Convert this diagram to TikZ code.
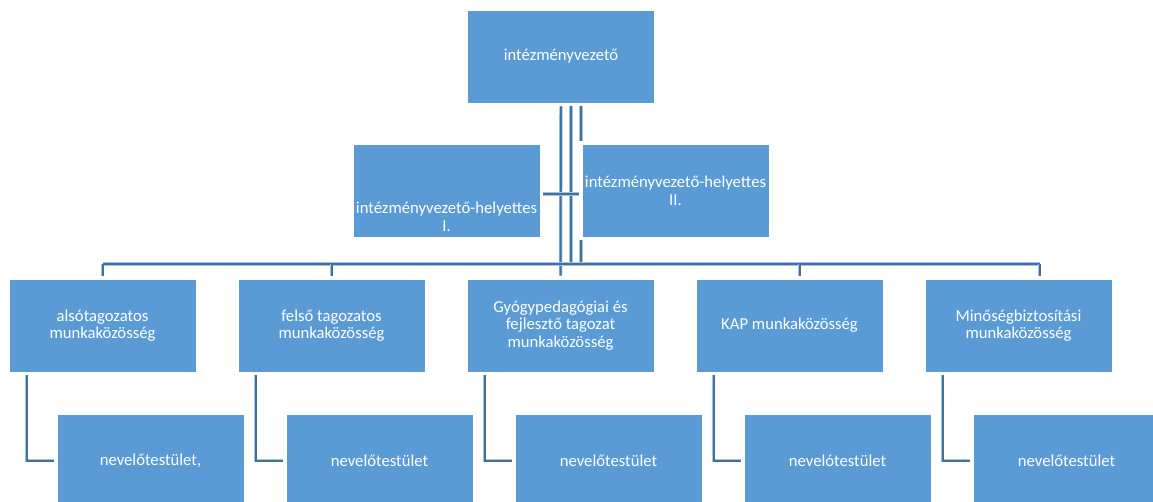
\documentclass[tikz,border=0pt]{standalone}
\usepackage{fontspec}
\setmainfont{Carlito}
\usetikzlibrary{calc}
\definecolor{boxblue}{HTML}{5B9BD5}
\definecolor{lineblue}{HTML}{41719C}
\definecolor{halo}{HTML}{A3C2E4}

\begin{document}
\begin{tikzpicture}[x=0.75pt, y=-0.75pt, font=\fontsize{12.5}{13.2}\selectfont,
  box/.style={draw=white, line width=0.6pt, fill=boxblue, text=white, align=center,
    minimum width=140.25pt, minimum height=69.75pt, inner sep=0pt},
  conn/.style={draw=lineblue, line width=1.5pt, preaction={draw=halo, line width=2.6pt}}]
  \useasboundingbox (0,0) rectangle (1153,501);
  \clip (0,0) rectangle (1153,501);

  % Top box
  \node[box] (top) at (561,56.5) {intézményvezető};

  % Deputies
  \node[box, label={[yshift=-19.5pt, align=center, text=white]center:intézményvezető-helyettes\\I.}] (dep1) at (446.5,190.5) {};
  \node[box] (dep2) at (675.5,190.5) {intézményvezető-helyettes\\II.};

  % Working groups (row 3)
  \foreach \i/\txt in {1/{alsótagozatos\\munkaközösség}, 2/{felső tagozatos\\munkaközösség},
      3/{Gyógypedagógiai és\\fejlesztő tagozat\\munkaközösség}, 4/{KAP munkaközösség},
      5/{Minőségbiztosítási\\munkaközösség}} {
    \node[box] (mk\i) at ({102.5+229*(\i-1)},325.5) {\txt};
  }

  % Staff boxes (row 4)
  \foreach \i/\txt in {1/{nevelőtestület,}, 2/nevelőtestület, 3/nevelőtestület,
      4/nevelótestület, 5/nevelőtestület} {
    \node[box] (nt\i) at ({150.5+229*(\i-1)},460.5) {\txt};
  }

  % Lines from the top box
  \coordinate (bar) at (0,264);
  \coordinate (c2) at ($(top.south)+(10,0)$);
  \coordinate (c3) at ($(top.south)+(20,0)$);
  \draw[conn] ([yshift=-2.25pt]top.south) -- ([yshift=2.25pt]mk3.north);
  \draw[conn] ([yshift=-2.25pt]c2) -- (c2 |- bar);
  \draw[conn] ([yshift=-2.25pt]c3) -- ([yshift=2.25pt]c3 |- dep2.north);
  \draw[conn] ([yshift=-2.25pt]c3 |- dep2.south) -- (c3 |- bar);

  % Deputies link
  \draw[conn] ([shift={(3,3.5)}]dep1.east) -- ([shift={(-3,3.5)}]dep2.west);

  % Horizontal bar and drops
  \draw[conn] (bar -| mk1.north) -- ($(bar -| mk5.north)+(21,0)$);
  \foreach \i/\dx in {1/0, 2/0, 4/10, 5/21} {
    \draw[conn] ($(bar -| mk\i.north)+(\dx,0)$) -- ++(0,12);
  }

  % Elbows down to row 4
  \foreach \i in {1,...,5} {
    \draw[conn] ($(mk\i.south west)+(18,3)$) |- ([xshift=-2.25pt]nt\i.west);
  }
\end{tikzpicture}
\end{document}
